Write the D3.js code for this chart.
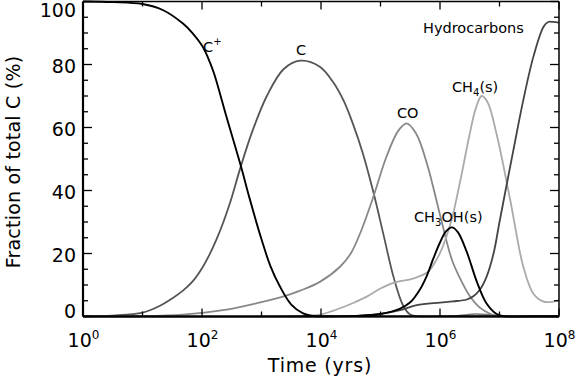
<!DOCTYPE html>
<html>
<head>
<meta charset="utf-8">
<script src="https://cdn.jsdelivr.net/npm/d3@7"></script>
<style>
  body { margin: 0; background: #fff; }
  svg { font-family: "DejaVu Sans", sans-serif; }
</style>
</head>
<body>
<script>
// each series: [log10(time / yrs), fraction of total C in %]
var cPlus = [[0,100],[0.5,99.8],[1,99.2],[1.34,97.3],[1.68,93],[1.84,90],[2,86],[2.1,82.2],[2.2,77.3],[2.41,63.5],[2.65,48],[2.8,37.5],[3,24.5],[3.15,16],[3.31,9.5],[3.5,3.8],[3.7,1],[3.9,0.1],[4.2,0],[5,0],[8,0]];
var cAtom = [[0,0],[0.5,0.3],[1,1.2],[1.25,3],[1.51,5.9],[1.68,8.2],[1.85,11.3],[2,15.3],[2.13,19.8],[2.24,24.3],[2.36,30],[2.47,36],[2.65,47.5],[2.85,59],[3.09,70],[3.37,78.5],[3.65,81.2],[3.98,79.3],[4.2,74.5],[4.38,68.5],[4.54,61],[4.7,52],[4.88,39.5],[5.05,26],[5.22,12.5],[5.38,3.5],[5.5,0.6],[5.65,0],[6,0],[8,0]];
var co = [[0,0],[1,0.1],[1.68,0.6],[2.35,2],[2.91,4.2],[3.36,6.3],[3.65,8.2],[3.98,11],[4.32,15.8],[4.5,20],[4.66,26.5],[4.88,38],[5.1,50.7],[5.3,59],[5.44,61.3],[5.6,58],[5.78,48.6],[6,32.3],[6.2,18],[6.34,12],[6.5,6.5],[6.67,2.8],[6.85,0.8],[7,0.1],[7.3,0],[8,0]];
var ch3oh = [[0,0],[4,0],[4.6,0.2],[5,0.8],[5.33,2.5],[5.5,4.5],[5.66,8.5],[5.78,13],[5.89,18.5],[6,23.5],[6.1,27],[6.2,28.3],[6.3,26.8],[6.45,20.5],[6.62,11],[6.78,4.2],[6.95,0.8],[7.1,0],[7.5,0],[8,0]];
var ch4 = [[0,0],[3,0],[3.6,0.1],[3.98,0.6],[4.2,1.8],[4.54,4.3],[4.77,6.3],[4.99,8.8],[5.16,10.3],[5.33,11.2],[5.5,11.8],[5.66,12.8],[5.8,14.2],[5.94,18],[6.02,21],[6.11,25.5],[6.2,31],[6.34,43],[6.5,58],[6.6,66],[6.7,70],[6.8,68],[6.95,58],[7.18,37],[7.4,15.8],[7.57,7.2],[7.74,4.7],[7.9,4.7],[8,5.2]];
var hydro = [[0,0],[4,0],[4.6,0.2],[5,0.8],[5.33,2],[5.61,3.6],[6,4.4],[6.22,4.8],[6.45,5.4],[6.56,6.4],[6.67,8.5],[6.78,12.5],[6.9,20],[7,30],[7.23,52.5],[7.4,68.7],[7.57,82.5],[7.74,92],[7.82,93.5],[7.9,93.5],[8,93.3]];
var other = [[0,0],[5.8,0],[6.2,0.1],[6.4,0.5],[6.6,0.8],[6.8,0.6],[7,0.2],[7.2,0],[8,0]];

var xTickExp = [0,1,2,3,4,5,6,7,8];
var xLabelExp = ['0','2','4','6','8'];
var yTicks = [0,5,10,15,20,25,30,35,40,45,50,55,60,65,70,75,80,85,90,95,100];
var yLabels = [0,20,40,60,80,100];

var W = 577, H = 380;
var pLeft = 83, pRight = 559, pTop = 1.5, pBottom = 316.5;

var svg = d3.select('body').append('svg')
  .attr('width', W).attr('height', H);

var x = d3.scaleLog().domain([1, 1e8]).range([pLeft, pRight]);
var y = d3.scaleLinear().domain([0, 100]).range([pBottom, pTop]);

var line = d3.line()
  .x(d => x(Math.pow(10, d[0])))
  .y(d => y(d[1]))
  .curve(d3.curveCatmullRom.alpha(0.5));

var series = [
  {d: other, c: '#777', w: 1.5},
  {d: cAtom, c: '#555', w: 1.8},
  {d: co, c: '#888', w: 1.8},
  {d: ch4, c: '#aaa', w: 1.8},
  {d: hydro, c: '#444', w: 1.8},
  {d: ch3oh, c: '#000', w: 1.9},
  {d: cPlus, c: '#000', w: 1.9}
];

svg.append('clipPath').attr('id', 'clip').append('rect')
  .attr('x', pLeft).attr('y', 0).attr('width', pRight - pLeft).attr('height', pBottom + 1);

svg.append('g').attr('clip-path', 'url(#clip)')
  .selectAll('path').data(series).enter().append('path')
  .attr('d', s => line(s.d))
  .attr('fill', 'none')
  .attr('stroke', s => s.c)
  .attr('stroke-width', s => s.w);

// frame
var ax = svg.append('g').attr('stroke', '#000');
ax.append('line').attr('x1', pLeft).attr('x2', pRight).attr('y1', pBottom).attr('y2', pBottom).attr('stroke-width', 2.2);
ax.append('line').attr('x1', pLeft).attr('x2', pLeft).attr('y1', pTop).attr('y2', pBottom).attr('stroke-width', 2.2);
ax.append('line').attr('x1', pLeft).attr('x2', pRight).attr('y1', pTop).attr('y2', pTop).attr('stroke-width', 1.5);
ax.append('line').attr('x1', pRight).attr('x2', pRight).attr('y1', pTop).attr('y2', pBottom).attr('stroke-width', 1.5);

// x ticks (bottom and top)
xTickExp.forEach(function (e) {
  var px = x(Math.pow(10, e));
  var len = e % 2 === 0 ? 8 : 5;
  ax.append('line').attr('x1', px).attr('x2', px).attr('y1', pBottom).attr('y2', pBottom - len).attr('stroke-width', 1.3);
  ax.append('line').attr('x1', px).attr('x2', px).attr('y1', pTop).attr('y2', pTop + len).attr('stroke-width', 1.3);
});

// y ticks (left and right)
yTicks.forEach(function (v) {
  var py = y(v);
  var len = v % 20 === 0 ? 9 : 5;
  ax.append('line').attr('x1', pLeft).attr('x2', pLeft + len).attr('y1', py).attr('y2', py).attr('stroke-width', 1.3);
  ax.append('line').attr('x1', pRight).attr('x2', pRight - len).attr('y1', py).attr('y2', py).attr('stroke-width', 1.3);
});

// y labels
svg.selectAll('.ylab').data(yLabels).enter().append('text')
  .attr('class', 'ylab')
  .attr('x', 76)
  .attr('y', v => Math.max(16.5, Math.min(318, y(v) + 8.5)))
  .attr('text-anchor', 'end')
  .attr('font-size', 19)
  .text(v => v);

// x labels
xLabelExp.forEach(function (e) {
  var t = svg.append('text')
    .attr('x', x(Math.pow(10, +e)) + 0.5)
    .attr('y', 347)
    .attr('text-anchor', 'middle')
    .attr('font-size', 19);
  t.append('tspan').text('10');
  t.append('tspan').attr('font-size', 12).attr('dy', -8).text(e);
});

svg.append('text')
  .attr('x', 320).attr('y', 372)
  .attr('text-anchor', 'middle')
  .attr('font-size', 19)
  .attr('letter-spacing', 0.8)
  .text('Time (yrs)');

svg.append('text')
  .attr('transform', 'translate(20,162) rotate(-90)')
  .attr('text-anchor', 'middle')
  .attr('font-size', 19)
  .attr('letter-spacing', 0.2)
  .text('Fraction of total C (%)');

// curve labels: parts are [text, dy, small?]
function label(px, py, parts) {
  var t = svg.append('text').attr('x', px).attr('y', py).attr('font-size', 14.5);
  parts.forEach(function (p) {
    var s = t.append('tspan').text(p[0]);
    if (p[1]) s.attr('dy', p[1]);
    if (p[2]) s.attr('font-size', 10);
  });
  return t;
}
label(203, 52, [['C'], ['+', -7, true]]);
label(296, 55, [['C']]);
label(397, 118, [['CO']]);
label(414, 222, [['CH'], ['3', 4, true], ['OH(s)', -4]]);
label(452, 92, [['CH'], ['4', 4, true], ['(s)', -4]]);
label(423, 33, [['Hydrocarbons']]);
</script>
</body>
</html>
